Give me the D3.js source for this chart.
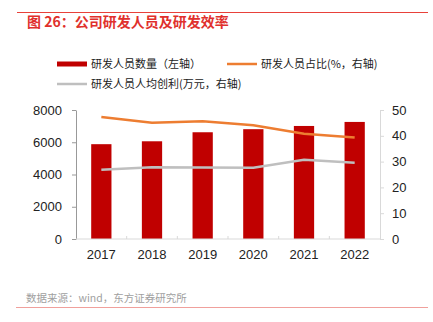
<!DOCTYPE html>
<html>
<head>
<meta charset="utf-8">
<script src="https://cdn.jsdelivr.net/npm/d3@7"></script>
<style>
  body { margin: 0; background: #fff; }
  svg { display: block; font-family: "Noto Sans CJK SC", "Liberation Sans", sans-serif; }
</style>
</head>
<body>
<script>
var years = ["2017", "2018", "2019", "2020", "2021", "2022"];
var staffCount = [5880, 6060, 6620, 6810, 7010, 7260];
var staffShare = [47.3, 45.1, 45.6, 44.1, 40.8, 39.3];
var profitPerHead = [26.8, 27.8, 27.7, 27.6, 30.7, 29.6];
var leftTicks = [0, 2000, 4000, 6000, 8000];
var rightTicks = [0, 10, 20, 30, 40, 50];

var width = 433, height = 322;
var margin = { top: 110, right: 53, bottom: 83, left: 76 };

var svg = d3.select("body").append("svg").attr("width", width).attr("height", height);

// header and footer rules
svg.append("line").attr("x1", 17).attr("x2", 428).attr("y1", 12.5).attr("y2", 12.5)
  .attr("stroke", "#e8413a").attr("stroke-width", 1);
svg.append("text").attr("x", 27).attr("y", 27).attr("fill", "#e0302c")
  .attr("font-size", 14).attr("font-weight", "bold").text("图 26：公司研发人员及研发效率");
svg.append("line").attr("x1", 16).attr("x2", 428).attr("y1", 307.5).attr("y2", 307.5)
  .attr("stroke", "#f0a09c").attr("stroke-width", 1.2);
svg.append("text").attr("x", 26).attr("y", 302).attr("fill", "#a0a0a0")
  .attr("font-size", 10.5).text("数据来源：wind，东方证券研究所");

var x = d3.scaleBand().domain(years).range([margin.left, width - margin.right]);
var yL = d3.scaleLinear().domain([0, 8000]).range([height - margin.bottom, margin.top]);
var yR = d3.scaleLinear().domain([0, 50]).range([height - margin.bottom, margin.top]);

// bars
svg.append("g").selectAll("rect").data(staffCount).join("rect")
  .attr("x", (d, i) => x(years[i]) + x.bandwidth() * 0.3)
  .attr("width", x.bandwidth() * 0.4)
  .attr("y", (d) => yL(d))
  .attr("height", (d) => yL(0) - yL(d))
  .attr("fill", "#c00000");

// left axis
var gL = svg.append("g").attr("transform", `translate(${margin.left},0)`)
  .call(d3.axisLeft(yL).tickValues(leftTicks).tickFormat(d3.format("d"))
    .tickSize(4).tickPadding(10).tickSizeOuter(0));
gL.select(".domain").attr("stroke", "#999");
gL.selectAll(".tick line").attr("stroke", "#999");
gL.selectAll("text").attr("font-size", 13).attr("fill", "#222").attr("font-family", "Liberation Sans, sans-serif");

// right axis
var gR = svg.append("g").attr("transform", `translate(${width - margin.right},0)`)
  .call(d3.axisRight(yR).tickValues(rightTicks).tickSize(4).tickPadding(8).tickSizeOuter(0));
gR.select(".domain").attr("stroke", "#d9d9d9");
gR.selectAll(".tick line").attr("stroke", "#d9d9d9");
gR.selectAll("text").attr("font-size", 13).attr("fill", "#222").attr("font-family", "Liberation Sans, sans-serif");

// bottom axis: ticks sit on category boundaries, pointing up
var bottomY = height - margin.bottom;
svg.append("line").attr("x1", margin.left).attr("x2", width - margin.right)
  .attr("y1", bottomY).attr("y2", bottomY).attr("stroke", "#d9d9d9");
svg.append("g").selectAll("line").data(years.slice(1)).join("line")
  .attr("x1", (d) => x(d)).attr("x2", (d) => x(d))
  .attr("y1", bottomY).attr("y2", bottomY - 3).attr("stroke", "#d9d9d9");
svg.append("g").selectAll("text").data(years).join("text")
  .attr("x", (d) => x(d) + x.bandwidth() / 2)
  .attr("y", bottomY + 20)
  .attr("text-anchor", "middle").attr("font-size", 13).attr("fill", "#222")
  .attr("font-family", "Liberation Sans, sans-serif")
  .text((d) => d);

// lines on the right axis
var line = d3.line().x((d, i) => x(years[i]) + x.bandwidth() / 2).y((d) => yR(d));
svg.append("path").datum(staffShare).attr("d", line)
  .attr("fill", "none").attr("stroke", "#ed7d31").attr("stroke-width", 2.5);
svg.append("path").datum(profitPerHead).attr("d", line)
  .attr("fill", "none").attr("stroke", "#bfbfbf").attr("stroke-width", 2.5);

// legend
var legend = [
  { label: "研发人员数量（左轴）", color: "#c00000", w: 5, x: 57, y: 64 },
  { label: "研发人员占比(%，右轴)", color: "#ed7d31", w: 2.5, x: 227, y: 64 },
  { label: "研发人员人均创利(万元，右轴)", color: "#bfbfbf", w: 2.5, x: 57, y: 84 }
];
var lg = svg.append("g").selectAll("g").data(legend).join("g")
  .attr("transform", (d) => `translate(${d.x},${d.y})`);
lg.append("line").attr("x1", 0).attr("x2", 30).attr("y1", 0).attr("y2", 0)
  .attr("stroke", (d) => d.color).attr("stroke-width", (d) => d.w);
lg.append("text").attr("x", 34).attr("y", 4).attr("font-size", 11).attr("fill", "#222")
  .text((d) => d.label);
</script>
</body>
</html>
